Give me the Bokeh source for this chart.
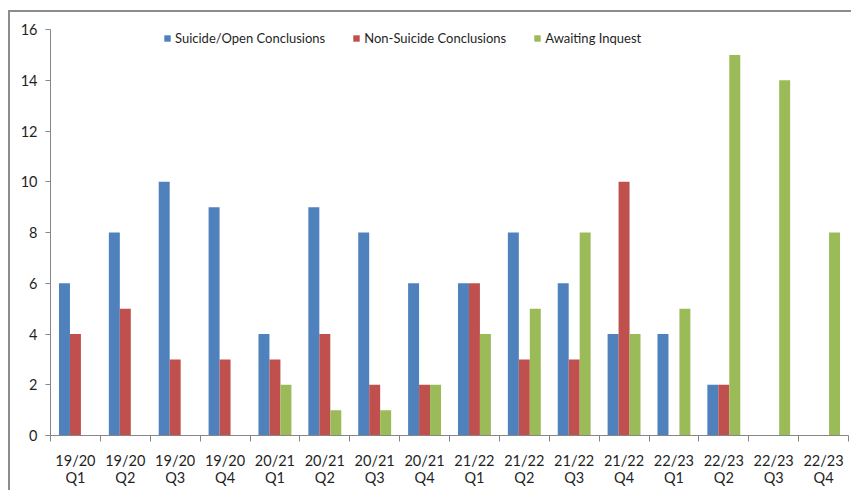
import numpy as np
from bokeh.plotting import figure
from bokeh.models import ColumnDataSource, FixedTicker, Legend, LegendItem, Range1d
from bokeh.embed import file_html
from bokeh.resources import INLINE

# Quarterly counts by outcome
periods = ["19/20 Q1", "19/20 Q2", "19/20 Q3", "19/20 Q4",
           "20/21 Q1", "20/21 Q2", "20/21 Q3", "20/21 Q4",
           "21/22 Q1", "21/22 Q2", "21/22 Q3", "21/22 Q4",
           "22/23 Q1", "22/23 Q2", "22/23 Q3", "22/23 Q4"]
suicide_open = [6, 8, 10, 9, 4, 9, 8, 6, 6, 8, 6, 4, 4, 2, 0, 0]
non_suicide = [4, 5, 3, 3, 3, 4, 2, 2, 6, 3, 3, 10, 0, 2, 0, 0]
awaiting_inquest = [0, 0, 0, 0, 2, 1, 1, 2, 4, 5, 8, 4, 5, 15, 14, 8]
y_ticks = [0, 2, 4, 6, 8, 10, 12, 14, 16]

series = [
    ("Suicide/Open Conclusions", suicide_open, "#4F81BD", -0.22),
    ("Non-Suicide Conclusions", non_suicide, "#C0504D", 0.0),
    ("Awaiting Inquest", awaiting_inquest, "#9BBB59", 0.22),
]

n = len(periods)
centers = np.arange(n) + 0.5
AXIS = "#868686"
TEXT = "#1f1f1f"
FONT = "Lato"

p = figure(width=843, height=480, output_backend="svg", toolbar_location=None,
           x_range=Range1d(0, n), y_range=Range1d(0, 16),
           min_border_left=40, min_border_right=5, min_border_top=17,
           min_border_bottom=57, outline_line_color=None,
           background_fill_color="white", border_fill_color="white")
p.styles = {"margin-left": "8px", "margin-top": "10px",
            "border-left": "2px solid #8c8c8c", "border-top": "2px solid #8c8c8c"}

items = []
for name, vals, color, off in series:
    src = ColumnDataSource(dict(x=centers + off, top=vals))
    r = p.vbar(x="x", top="top", width=0.22, bottom=0, source=src,
               fill_color=color, line_color=None)
    items.append(LegendItem(label=name, renderers=[r]))

legend = Legend(items=items, orientation="horizontal", location=(113, 389),
                border_line_color=None, background_fill_alpha=0,
                glyph_width=8, glyph_height=8, label_standoff=4, spacing=27,
                padding=0, margin=0, label_height=14,
                label_text_font=FONT, label_text_font_size="13px",
                label_text_color=TEXT)
p.add_layout(legend)

p.xgrid.visible = False
p.ygrid.visible = False

xa = p.xaxis[0]
xa.ticker = FixedTicker(ticks=list(centers), minor_ticks=list(range(n + 1)))
xa.major_label_overrides = {float(c): lab.replace(" ", "\n") for c, lab in zip(centers, periods)}
xa.major_tick_out = 0
xa.major_tick_in = 0
xa.minor_tick_out = 6
xa.minor_tick_in = 0
xa.minor_tick_line_color = AXIS
xa.axis_line_color = AXIS
xa.major_label_standoff = 10
xa.major_label_text_font = FONT
xa.major_label_text_font_size = "14.5px"
xa.major_label_text_color = TEXT
xa.major_label_text_line_height = 1.05

ya = p.yaxis[0]
ya.ticker = FixedTicker(ticks=y_ticks)
ya.major_tick_out = 5
ya.major_tick_in = 0
ya.minor_tick_line_color = None
ya.major_tick_line_color = AXIS
ya.axis_line_color = AXIS
ya.major_label_standoff = 8
ya.major_label_text_font = FONT
ya.major_label_text_font_size = "14.5px"
ya.major_label_text_color = TEXT

open("out.html", "w").write(file_html(p, INLINE))
